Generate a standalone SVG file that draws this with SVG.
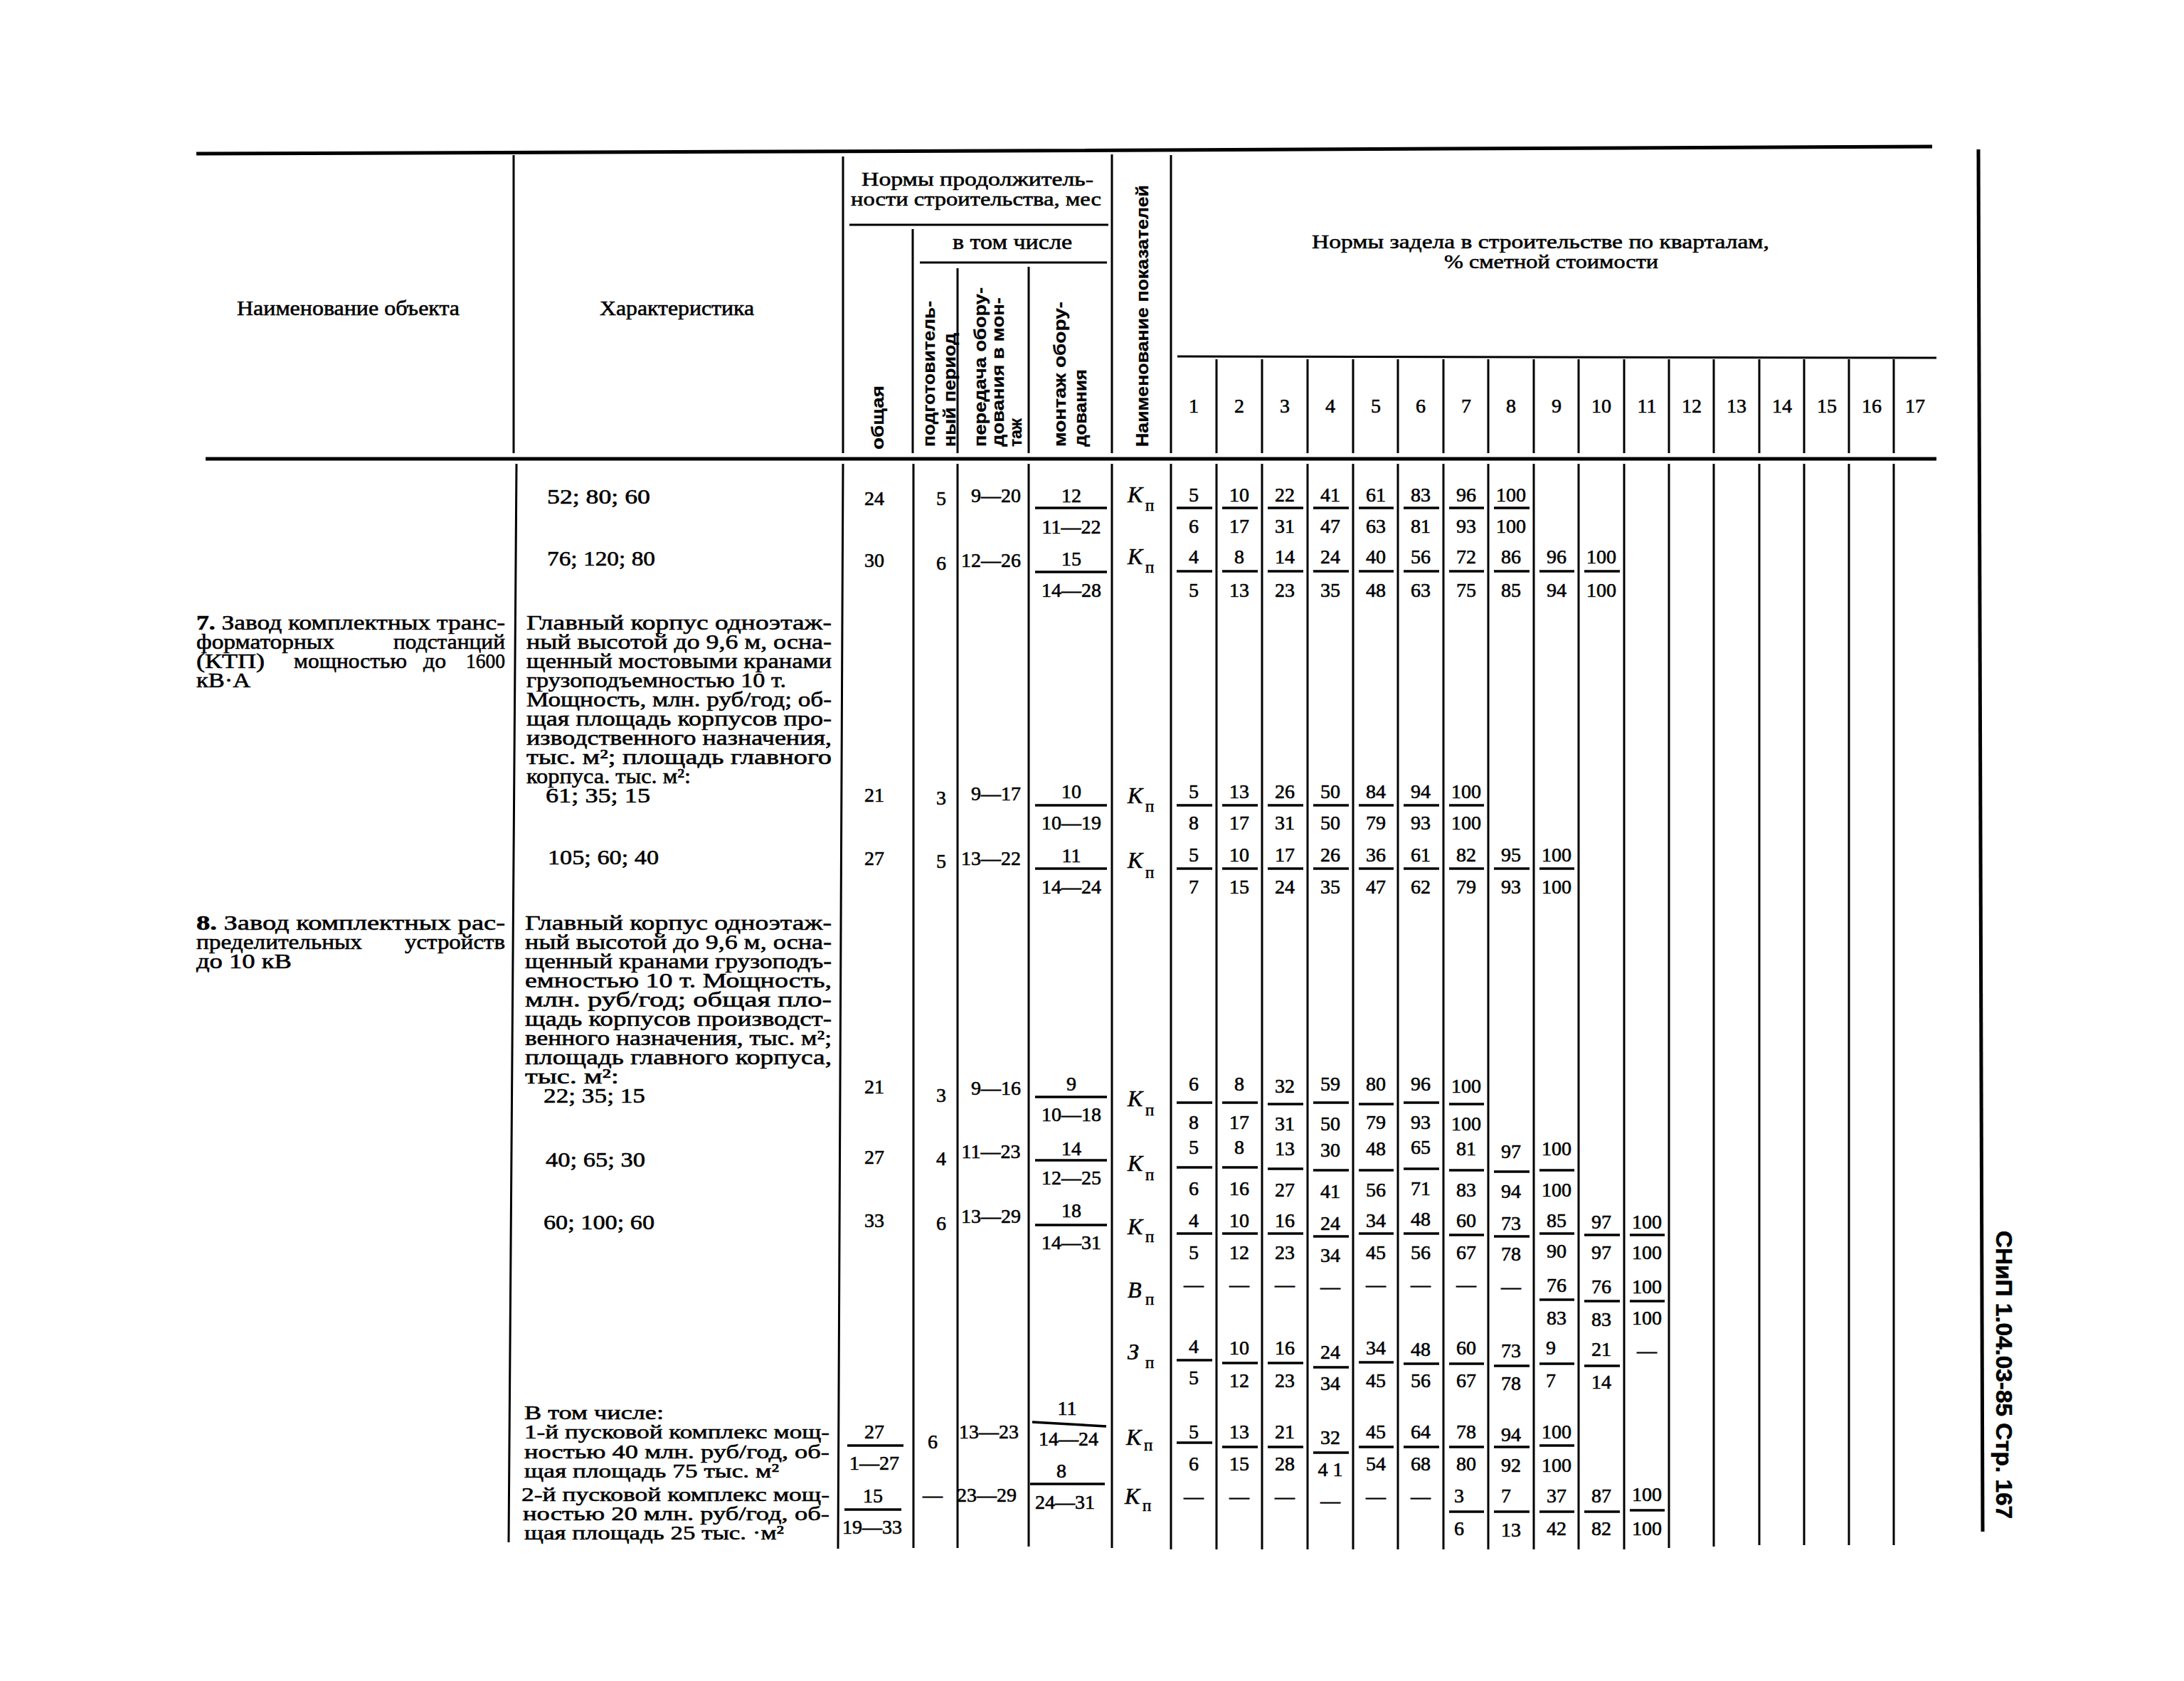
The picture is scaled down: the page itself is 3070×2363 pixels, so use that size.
<svg xmlns="http://www.w3.org/2000/svg" width="3070" height="2363" viewBox="0 0 3070 2363">
<style>
text{font-family:"Liberation Serif","DejaVu Serif",serif;fill:#000;stroke:#000;stroke-width:0.6}
.t{font-size:30px}
.tb{font-size:28px}
.n{font-size:28px;text-anchor:middle}
.r{font-family:"Liberation Sans","DejaVu Sans",sans-serif;font-weight:bold;font-size:24px;stroke-width:0.3}
.it{font-size:32px;font-style:italic}
.sb{font-size:23px}
.side{font-family:"Liberation Sans","DejaVu Sans",sans-serif;font-weight:bold;font-size:32px}
.ln{stroke:#000;stroke-width:3;fill:none}
.hv{stroke:#000;stroke-width:5;fill:none}
.bar{stroke:#000;stroke-width:3.5;fill:none}
</style>
<rect width="3070" height="2363" fill="#fff"/>

<g id="rules">
<path class="hv" d="M276 216 L1400 212 L2716 206"/>
<path class="hv" d="M289 645 H2722"/>
<path class="ln" d="M1194 316 H1558 M1293 369 H1556 M1655 501 L2722 503"/>
<path class="hv" d="M2781 210 L2787 2153"/>
<path class="ln" d="M722 218 V637 M1185 220 V637 M1283 322 V637 M1346 377 V637 M1446 375 V637 M1563 217 V637 M1646 218 V637 M1710 505 V637 M1774 505 V637 M1838 505 V637 M1902 505 V637 M1965 505 V637 M2029 505 V637 M2092 505 V637 M2156 505 V637 M2219 505 V637 M2283 505 V637 M2346 505 V637 M2409 505 V637 M2473 505 V637 M2536 505 V637 M2599 505 V637 M2662 505 V637"/>
<path class="ln" d="M726 652 L715 2168 M1185 652 L1178 2177 M1284 652 V2176 M1346 652 V2176 M1446 652 V2174 M1563 652 V2176 M1646 652 V2178 M1710 652 V2178 M1774 652 V2178 M1838 652 V2178 M1902 652 V2178 M1965 652 V2178 M2029 652 V2178 M2092 652 V2178 M2156 652 V2178 M2219 652 V2178 M2283 652 V2178 M2346 652 V2176 M2409 652 V2174 M2473 652 V2172 M2536 652 V2172 M2599 652 V2172 M2662 652 V2172"/>
</g>

<g id="header">
<text class="t" x="333" y="443" textLength="313" lengthAdjust="spacingAndGlyphs">Наименование объекта</text>
<text class="t" x="843" y="443" textLength="217" lengthAdjust="spacingAndGlyphs">Характеристика</text>
<text class="tb" x="1211" y="261" textLength="326" lengthAdjust="spacingAndGlyphs">Нормы продолжитель-</text>
<text class="tb" x="1196" y="289" textLength="352" lengthAdjust="spacingAndGlyphs">ности строительства, мес</text>
<text class="t" x="1339" y="350" textLength="168" lengthAdjust="spacingAndGlyphs">в том числе</text>
<text class="tb" x="1844" y="349" textLength="643" lengthAdjust="spacingAndGlyphs">Нормы задела в строительстве по кварталам,</text>
<text class="tb" x="2030" y="377" textLength="301" lengthAdjust="spacingAndGlyphs">% сметной стоимости</text>
<text class="r" transform="translate(1242,632) rotate(-90)" textLength="90" lengthAdjust="spacingAndGlyphs">общая</text>
<text class="r" transform="translate(1314,628) rotate(-90)" textLength="205" lengthAdjust="spacingAndGlyphs">подготовитель-</text>
<text class="r" transform="translate(1343,628) rotate(-90)" textLength="160" lengthAdjust="spacingAndGlyphs">ный период</text>
<text class="r" transform="translate(1386,628) rotate(-90)" textLength="224" lengthAdjust="spacingAndGlyphs">передача обору-</text>
<text class="r" transform="translate(1411,628) rotate(-90)" textLength="210" lengthAdjust="spacingAndGlyphs">дования в мон-</text>
<text class="r" transform="translate(1436,628) rotate(-90)" textLength="40" lengthAdjust="spacingAndGlyphs">таж</text>
<text class="r" transform="translate(1498,628) rotate(-90)" textLength="204" lengthAdjust="spacingAndGlyphs">монтаж обору-</text>
<text class="r" transform="translate(1527,628) rotate(-90)" textLength="109" lengthAdjust="spacingAndGlyphs">дования</text>
<text class="r" transform="translate(1614,628) rotate(-90)" textLength="368" lengthAdjust="spacingAndGlyphs">Наименование показателей</text>
<text class="n" x="1678" y="580">1</text><text class="n" x="1742" y="580">2</text><text class="n" x="1806" y="580">3</text><text class="n" x="1870" y="580">4</text><text class="n" x="1934" y="580">5</text><text class="n" x="1997" y="580">6</text><text class="n" x="2061" y="580">7</text><text class="n" x="2124" y="580">8</text><text class="n" x="2188" y="580">9</text><text class="n" x="2251" y="580">10</text><text class="n" x="2315" y="580">11</text><text class="n" x="2378" y="580">12</text><text class="n" x="2441" y="580">13</text><text class="n" x="2505" y="580">14</text><text class="n" x="2568" y="580">15</text><text class="n" x="2631" y="580">16</text><text class="n" x="2692" y="580">17</text>
</g>

<g id="left-text">
<text class="t" x="769" y="708" textLength="145" lengthAdjust="spacingAndGlyphs">52;  80;  60</text>
<text class="t" x="769" y="795" textLength="152" lengthAdjust="spacingAndGlyphs">76;  120;  80</text>
<text class="t" x="276" y="885" textLength="434" lengthAdjust="spacingAndGlyphs"><tspan font-weight="bold">7.</tspan> Завод комплектных транс-</text>
<text class="t" x="276" y="912" textLength="194" lengthAdjust="spacingAndGlyphs">форматорных</text><text class="t" x="553" y="912" textLength="157" lengthAdjust="spacingAndGlyphs">подстанций</text>
<text class="t" x="276" y="939" textLength="96" lengthAdjust="spacingAndGlyphs">(КТП)</text><text class="t" x="413" y="939" textLength="159" lengthAdjust="spacingAndGlyphs">мощностью</text><text class="t" x="595" y="939" textLength="32" lengthAdjust="spacingAndGlyphs">до</text><text class="t" x="655" y="939" textLength="55" lengthAdjust="spacingAndGlyphs">1600</text>
<text class="t" x="276" y="966" textLength="76" lengthAdjust="spacingAndGlyphs">кВ·А</text>
<text class="t" x="740" y="885" textLength="429" lengthAdjust="spacingAndGlyphs">Главный  корпус  одноэтаж-</text>
<text class="t" x="740" y="912" textLength="429" lengthAdjust="spacingAndGlyphs">ный высотой до 9,6 м, осна-</text>
<text class="t" x="740" y="939" textLength="429" lengthAdjust="spacingAndGlyphs">щенный мостовыми кранами</text>
<text class="t" x="740" y="966" textLength="365" lengthAdjust="spacingAndGlyphs">грузоподъемностью 10 т.</text>
<text class="t" x="740" y="993" textLength="429" lengthAdjust="spacingAndGlyphs">Мощность, млн. руб/год; об-</text>
<text class="t" x="740" y="1020" textLength="429" lengthAdjust="spacingAndGlyphs">щая площадь корпусов про-</text>
<text class="t" x="740" y="1047" textLength="429" lengthAdjust="spacingAndGlyphs">изводственного  назначения,</text>
<text class="t" x="740" y="1074" textLength="429" lengthAdjust="spacingAndGlyphs">тыс. м²;  площадь главного</text>
<text class="t" x="740" y="1101" textLength="231" lengthAdjust="spacingAndGlyphs">корпуса. тыс. м²:</text>
<text class="t" x="767" y="1128" textLength="147" lengthAdjust="spacingAndGlyphs">61;  35;  15</text>
<text class="t" x="770" y="1215" textLength="156" lengthAdjust="spacingAndGlyphs">105;  60;  40</text>
<text class="t" x="276" y="1307" textLength="434" lengthAdjust="spacingAndGlyphs"><tspan font-weight="bold">8.</tspan> Завод комплектных рас-</text>
<text class="t" x="276" y="1334" textLength="233" lengthAdjust="spacingAndGlyphs">пределительных</text><text class="t" x="569" y="1334" textLength="141" lengthAdjust="spacingAndGlyphs">устройств</text>
<text class="t" x="276" y="1361" textLength="134" lengthAdjust="spacingAndGlyphs">до 10 кВ</text>
<text class="t" x="738" y="1307" textLength="431" lengthAdjust="spacingAndGlyphs">Главный  корпус  одноэтаж-</text>
<text class="t" x="738" y="1334" textLength="431" lengthAdjust="spacingAndGlyphs">ный высотой до 9,6 м, осна-</text>
<text class="t" x="738" y="1361" textLength="431" lengthAdjust="spacingAndGlyphs">щенный кранами грузоподъ-</text>
<text class="t" x="738" y="1388" textLength="431" lengthAdjust="spacingAndGlyphs">емностью 10 т.  Мощность,</text>
<text class="t" x="738" y="1415" textLength="431" lengthAdjust="spacingAndGlyphs">млн. руб/год;  общая  пло-</text>
<text class="t" x="738" y="1442" textLength="431" lengthAdjust="spacingAndGlyphs">щадь корпусов  производст-</text>
<text class="t" x="738" y="1469" textLength="431" lengthAdjust="spacingAndGlyphs">венного назначения, тыс. м²;</text>
<text class="t" x="738" y="1496" textLength="431" lengthAdjust="spacingAndGlyphs">площадь  главного корпуса,</text>
<text class="t" x="738" y="1523" textLength="132" lengthAdjust="spacingAndGlyphs">тыс.  м²:</text>
<text class="t" x="764" y="1550" textLength="143" lengthAdjust="spacingAndGlyphs">22;  35;  15</text>
<text class="t" x="767" y="1640" textLength="140" lengthAdjust="spacingAndGlyphs">40;  65;  30</text>
<text class="t" x="764" y="1728" textLength="156" lengthAdjust="spacingAndGlyphs">60;  100;  60</text>
<text class="tb" x="737" y="1995" textLength="196" lengthAdjust="spacingAndGlyphs">В том числе:</text>
<text class="tb" x="737" y="2022" textLength="429" lengthAdjust="spacingAndGlyphs">1-й пусковой комплекс мощ-</text>
<text class="tb" x="737" y="2050" textLength="429" lengthAdjust="spacingAndGlyphs">ностью 40 млн. руб/год, об-</text>
<text class="tb" x="737" y="2077" textLength="358" lengthAdjust="spacingAndGlyphs">щая площадь 75 тыс. м²</text>
<text class="tb" x="733" y="2110" textLength="433" lengthAdjust="spacingAndGlyphs">2-й пусковой комплекс мощ-</text>
<text class="tb" x="735" y="2137" textLength="431" lengthAdjust="spacingAndGlyphs">ностью 20 млн. руб/год, об-</text>
<text class="tb" x="737" y="2164" textLength="365" lengthAdjust="spacingAndGlyphs">щая площадь 25 тыс. ·м²</text>
</g>

<g id="duration">
<text class="n" x="1229" y="710">24</text><text class="n" x="1323" y="710">5</text><text class="n" x="1400" y="706">9—20</text>
<text class="n" x="1229" y="797">30</text><text class="n" x="1323" y="801">6</text><text class="n" x="1393" y="797">12—26</text>
<text class="n" x="1229" y="1127">21</text><text class="n" x="1323" y="1131">3</text><text class="n" x="1400" y="1125">9—17</text>
<text class="n" x="1229" y="1216">27</text><text class="n" x="1323" y="1220">5</text><text class="n" x="1393" y="1216">13—22</text>
<text class="n" x="1229" y="1537">21</text><text class="n" x="1323" y="1549">3</text><text class="n" x="1400" y="1539">9—16</text>
<text class="n" x="1229" y="1636">27</text><text class="n" x="1323" y="1638">4</text><text class="n" x="1393" y="1628">11—23</text>
<text class="n" x="1229" y="1725">33</text><text class="n" x="1323" y="1729">6</text><text class="n" x="1393" y="1719">13—29</text>
<text class="n" x="1229" y="2022">27</text><text class="n" x="1229" y="2066">1—27</text><text class="n" x="1311" y="2036">6</text><text class="n" x="1390" y="2022">13—23</text>
<text class="n" x="1227" y="2112">15</text><text class="n" x="1226" y="2156">19—33</text><text class="n" x="1311" y="2111">—</text><text class="n" x="1387" y="2111">23—29</text>
<path class="bar" d="M1191 2032 H1270 M1187 2122 H1267"/>
<text class="n" x="1506" y="706">12</text><text class="n" x="1506" y="750">11—22</text>
<text class="n" x="1506" y="795">15</text><text class="n" x="1506" y="839">14—28</text>
<text class="n" x="1506" y="1122">10</text><text class="n" x="1506" y="1166">10—19</text>
<text class="n" x="1506" y="1212">11</text><text class="n" x="1506" y="1256">14—24</text>
<text class="n" x="1506" y="1533">9</text><text class="n" x="1506" y="1576">10—18</text>
<text class="n" x="1506" y="1624">14</text><text class="n" x="1506" y="1665">12—25</text>
<text class="n" x="1506" y="1711">18</text><text class="n" x="1506" y="1756">14—31</text>
<text class="n" x="1500" y="1989">11</text><text class="n" x="1502" y="2032">14—24</text>
<text class="n" x="1492" y="2077">8</text><text class="n" x="1497" y="2121">24—31</text>
<path class="bar" d="M1455 714 H1556 M1455 804 H1556 M1455 1132 H1556 M1455 1221 H1556 M1455 1542 H1556 M1455 1631 H1556 M1455 1722 H1556 M1451 1999 L1555 2005 M1448 2086 H1553"/>
</g>

<g id="indicators">
<text class="it" x="1585" y="706">К</text><text class="sb" x="1610" y="718">п</text>
<text class="it" x="1585" y="793">К</text><text class="sb" x="1610" y="805">п</text>
<text class="it" x="1585" y="1129">К</text><text class="sb" x="1610" y="1141">п</text>
<text class="it" x="1585" y="1220">К</text><text class="sb" x="1610" y="1234">п</text>
<text class="it" x="1585" y="1555">К</text><text class="sb" x="1610" y="1568">п</text>
<text class="it" x="1585" y="1646">К</text><text class="sb" x="1610" y="1659">п</text>
<text class="it" x="1585" y="1735">К</text><text class="sb" x="1610" y="1746">п</text>
<text class="it" x="1585" y="1824">В</text><text class="sb" x="1610" y="1834">п</text>
<text class="it" x="1585" y="1911">З</text><text class="sb" x="1610" y="1923">п</text>
<text class="it" x="1583" y="2031">К</text><text class="sb" x="1608" y="2039">п</text>
<text class="it" x="1581" y="2114">К</text><text class="sb" x="1606" y="2124">п</text>
</g>

<g id="quarters">
<path class="bar" d="M1654 714H1704M1718 714H1768M1782 714H1832M1846 714H1896M1910 714H1959M1973 714H2023M2037 714H2086M2100 714H2150"/>
<text class="n" x="1678" y="705">5</text><text class="n" x="1742" y="705">10</text><text class="n" x="1806" y="705">22</text><text class="n" x="1870" y="705">41</text><text class="n" x="1934" y="705">61</text><text class="n" x="1997" y="705">83</text><text class="n" x="2061" y="705">96</text><text class="n" x="2124" y="705">100</text>
<text class="n" x="1678" y="749">6</text><text class="n" x="1742" y="749">17</text><text class="n" x="1806" y="749">31</text><text class="n" x="1870" y="749">47</text><text class="n" x="1934" y="749">63</text><text class="n" x="1997" y="749">81</text><text class="n" x="2061" y="749">93</text><text class="n" x="2124" y="749">100</text>

<path class="bar" d="M1654 803H1704M1718 803H1768M1782 803H1832M1846 803H1896M1910 803H1959M1973 803H2023M2037 803H2086M2100 803H2150M2164 803H2213M2227 803H2277"/>
<text class="n" x="1678" y="792">4</text><text class="n" x="1742" y="792">8</text><text class="n" x="1806" y="792">14</text><text class="n" x="1870" y="792">24</text><text class="n" x="1934" y="792">40</text><text class="n" x="1997" y="792">56</text><text class="n" x="2061" y="792">72</text><text class="n" x="2124" y="792">86</text><text class="n" x="2188" y="792">96</text><text class="n" x="2251" y="792">100</text>
<text class="n" x="1678" y="839">5</text><text class="n" x="1742" y="839">13</text><text class="n" x="1806" y="839">23</text><text class="n" x="1870" y="839">35</text><text class="n" x="1934" y="839">48</text><text class="n" x="1997" y="839">63</text><text class="n" x="2061" y="839">75</text><text class="n" x="2124" y="839">85</text><text class="n" x="2188" y="839">94</text><text class="n" x="2251" y="839">100</text>

<path class="bar" d="M1654 1132H1704M1718 1132H1768M1782 1132H1832M1846 1132H1896M1910 1132H1959M1973 1132H2023M2037 1132H2086"/>
<text class="n" x="1678" y="1122">5</text><text class="n" x="1742" y="1122">13</text><text class="n" x="1806" y="1122">26</text><text class="n" x="1870" y="1122">50</text><text class="n" x="1934" y="1122">84</text><text class="n" x="1997" y="1122">94</text><text class="n" x="2061" y="1122">100</text>
<text class="n" x="1678" y="1166">8</text><text class="n" x="1742" y="1166">17</text><text class="n" x="1806" y="1166">31</text><text class="n" x="1870" y="1166">50</text><text class="n" x="1934" y="1166">79</text><text class="n" x="1997" y="1166">93</text><text class="n" x="2061" y="1166">100</text>

<path class="bar" d="M1654 1221H1704M1718 1221H1768M1782 1221H1832M1846 1221H1896M1910 1221H1959M1973 1221H2023M2037 1221H2086M2100 1221H2150M2164 1221H2213"/>
<text class="n" x="1678" y="1211">5</text><text class="n" x="1742" y="1211">10</text><text class="n" x="1806" y="1211">17</text><text class="n" x="1870" y="1211">26</text><text class="n" x="1934" y="1211">36</text><text class="n" x="1997" y="1211">61</text><text class="n" x="2061" y="1211">82</text><text class="n" x="2124" y="1211">95</text><text class="n" x="2188" y="1211">100</text>
<text class="n" x="1678" y="1256">7</text><text class="n" x="1742" y="1256">15</text><text class="n" x="1806" y="1256">24</text><text class="n" x="1870" y="1256">35</text><text class="n" x="1934" y="1256">47</text><text class="n" x="1997" y="1256">62</text><text class="n" x="2061" y="1256">79</text><text class="n" x="2124" y="1256">93</text><text class="n" x="2188" y="1256">100</text>

<path class="bar" d="M1654 1550H1704M1718 1550H1768M1782 1552H1832M1846 1550H1896M1910 1552H1959M1973 1550H2023M2037 1552H2086"/>
<text class="n" x="1678" y="1533">6</text><text class="n" x="1742" y="1533">8</text><text class="n" x="1806" y="1536">32</text><text class="n" x="1870" y="1533">59</text><text class="n" x="1934" y="1533">80</text><text class="n" x="1997" y="1533">96</text><text class="n" x="2061" y="1536">100</text>
<text class="n" x="1678" y="1587">8</text><text class="n" x="1742" y="1587">17</text><text class="n" x="1806" y="1589">31</text><text class="n" x="1870" y="1589">50</text><text class="n" x="1934" y="1587">79</text><text class="n" x="1997" y="1587">93</text><text class="n" x="2061" y="1589">100</text>

<path class="bar" d="M1654 1641H1704M1718 1641H1768M1782 1643H1832M1846 1645H1896M1910 1645H1959M1973 1643H2023M2037 1645H2086M2100 1647H2150M2164 1645H2213"/>
<text class="n" x="1678" y="1622">5</text><text class="n" x="1742" y="1622">8</text><text class="n" x="1806" y="1624">13</text><text class="n" x="1870" y="1626">30</text><text class="n" x="1934" y="1624">48</text><text class="n" x="1997" y="1622">65</text><text class="n" x="2061" y="1624">81</text><text class="n" x="2124" y="1628">97</text><text class="n" x="2188" y="1624">100</text>
<text class="n" x="1678" y="1680">6</text><text class="n" x="1742" y="1680">16</text><text class="n" x="1806" y="1682">27</text><text class="n" x="1870" y="1684">41</text><text class="n" x="1934" y="1682">56</text><text class="n" x="1997" y="1680">71</text><text class="n" x="2061" y="1682">83</text><text class="n" x="2124" y="1684">94</text><text class="n" x="2188" y="1682">100</text>

<path class="bar" d="M1654 1734H1704M1718 1734H1768M1782 1734H1832M1846 1738H1896M1910 1734H1959M1973 1734H2023M2037 1736H2086M2100 1738H2150M2164 1734H2213M2227 1736H2277M2291 1736H2340"/>
<text class="n" x="1678" y="1725">4</text><text class="n" x="1742" y="1725">10</text><text class="n" x="1806" y="1725">16</text><text class="n" x="1870" y="1729">24</text><text class="n" x="1934" y="1725">34</text><text class="n" x="1997" y="1723">48</text><text class="n" x="2061" y="1725">60</text><text class="n" x="2124" y="1729">73</text><text class="n" x="2188" y="1725">85</text><text class="n" x="2251" y="1727">97</text><text class="n" x="2315" y="1727">100</text>
<text class="n" x="1678" y="1770">5</text><text class="n" x="1742" y="1770">12</text><text class="n" x="1806" y="1770">23</text><text class="n" x="1870" y="1774">34</text><text class="n" x="1934" y="1770">45</text><text class="n" x="1997" y="1770">56</text><text class="n" x="2061" y="1770">67</text><text class="n" x="2124" y="1772">78</text><text class="n" x="2188" y="1768">90</text><text class="n" x="2251" y="1770">97</text><text class="n" x="2315" y="1770">100</text>

<path class="bar" d="M2164 1827H2213M2227 1829H2277M2291 1829H2340"/>
<text class="n" x="1678" y="1815">—</text><text class="n" x="1742" y="1815">—</text><text class="n" x="1806" y="1815">—</text><text class="n" x="1870" y="1818">—</text><text class="n" x="1934" y="1815">—</text><text class="n" x="1997" y="1815">—</text><text class="n" x="2061" y="1815">—</text><text class="n" x="2124" y="1818">—</text>
<text class="n" x="2188" y="1816">76</text><text class="n" x="2251" y="1818">76</text><text class="n" x="2315" y="1818">100</text>
<text class="n" x="2188" y="1862">83</text><text class="n" x="2251" y="1864">83</text><text class="n" x="2315" y="1862">100</text>

<path class="bar" d="M1654 1912H1704M1718 1916H1768M1782 1916H1832M1846 1922H1896M1910 1915H1959M1973 1917H2023M2037 1917H2086M2100 1920H2150M2164 1917H2213M2227 1920H2277"/>
<text class="n" x="1678" y="1902">4</text><text class="n" x="1742" y="1904">10</text><text class="n" x="1806" y="1904">16</text><text class="n" x="1870" y="1910">24</text><text class="n" x="1934" y="1904">34</text><text class="n" x="1997" y="1906">48</text><text class="n" x="2061" y="1904">60</text><text class="n" x="2124" y="1908">73</text><text class="n" x="2180" y="1904">9</text><text class="n" x="2251" y="1906">21</text><text class="n" x="2315" y="1908">—</text>
<text class="n" x="1678" y="1946">5</text><text class="n" x="1742" y="1950">12</text><text class="n" x="1806" y="1950">23</text><text class="n" x="1870" y="1954">34</text><text class="n" x="1934" y="1950">45</text><text class="n" x="1997" y="1950">56</text><text class="n" x="2061" y="1950">67</text><text class="n" x="2124" y="1954">78</text><text class="n" x="2180" y="1950">7</text><text class="n" x="2251" y="1952">14</text>

<path class="bar" d="M1654 2028H1704M1718 2034H1768M1782 2034H1832M1846 2042H1896M1910 2034H1959M1973 2034H2023M2037 2034H2086M2100 2034H2150M2164 2032H2213"/>
<text class="n" x="1678" y="2022">5</text><text class="n" x="1742" y="2022">13</text><text class="n" x="1806" y="2022">21</text><text class="n" x="1870" y="2030">32</text><text class="n" x="1934" y="2022">45</text><text class="n" x="1997" y="2022">64</text><text class="n" x="2061" y="2022">78</text><text class="n" x="2124" y="2026">94</text><text class="n" x="2188" y="2022">100</text>
<text class="n" x="1678" y="2067">6</text><text class="n" x="1742" y="2067">15</text><text class="n" x="1806" y="2067">28</text><text class="n" x="1870" y="2075">4 1</text><text class="n" x="1934" y="2067">54</text><text class="n" x="1997" y="2067">68</text><text class="n" x="2061" y="2067">80</text><text class="n" x="2124" y="2069">92</text><text class="n" x="2188" y="2069">100</text>

<text class="n" x="1678" y="2113">—</text><text class="n" x="1742" y="2113">—</text><text class="n" x="1806" y="2113">—</text><text class="n" x="1870" y="2119">—</text><text class="n" x="1934" y="2113">—</text><text class="n" x="1997" y="2113">—</text>
<path class="bar" d="M2037 2125H2086M2100 2125H2150M2164 2125H2213M2227 2125H2277M2291 2123H2340"/>
<text class="n" x="2051" y="2112">3</text><text class="n" x="2117" y="2112">7</text><text class="n" x="2188" y="2112">37</text><text class="n" x="2251" y="2112">87</text><text class="n" x="2315" y="2110">100</text>
<text class="n" x="2051" y="2158">6</text><text class="n" x="2124" y="2160">13</text><text class="n" x="2188" y="2158">42</text><text class="n" x="2251" y="2158">82</text><text class="n" x="2315" y="2158">100</text>
</g>

<text class="side" transform="translate(2806,1730) rotate(90)" textLength="405" lengthAdjust="spacingAndGlyphs">СНиП 1.04.03-85 Стр. 167</text>
</svg>
